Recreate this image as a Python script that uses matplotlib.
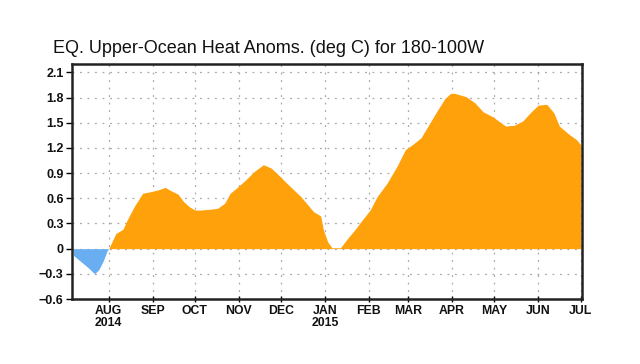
import matplotlib
matplotlib.use("Agg")
import matplotlib.pyplot as plt
import matplotlib.dates as mdates
import numpy as np
import pandas as pd

# Day offsets from 2014-08-01 and heat anomaly values (deg C)
day_offsets = [-25, -20, -15, -10, -7, -4, -1,
               0, 5, 10, 13, 18, 24, 30, 35, 40, 44, 49, 53, 57, 61, 65, 72, 77,
               82, 86, 91, 97, 103, 109.5, 115, 120, 126, 131, 136, 140, 145, 150,
               152, 155, 158, 164, 169, 174, 178, 185, 190, 197, 204, 210, 215, 221,
               226, 232, 238, 242, 245, 253, 259, 265, 272, 276, 281, 287, 293, 299,
               304, 310, 315, 319, 326, 331, 334]
anom_values = [-0.08, -0.15, -0.22, -0.30, -0.25, -0.15, -0.02,
               0.0, 0.18, 0.23, 0.34, 0.50, 0.66, 0.68, 0.70, 0.73, 0.69, 0.65, 0.56, 0.50, 0.46, 0.46, 0.47, 0.48,
               0.54, 0.66, 0.73, 0.82, 0.92, 1.00, 0.96, 0.88, 0.78, 0.70, 0.62, 0.54, 0.44, 0.39,
               0.22, 0.08, 0.01, 0.01, 0.12, 0.22, 0.31, 0.46, 0.62, 0.78, 0.98, 1.18, 1.24, 1.32,
               1.46, 1.63, 1.79, 1.85, 1.85, 1.81, 1.74, 1.63, 1.57, 1.52, 1.46, 1.47, 1.52, 1.63,
               1.71, 1.72, 1.62, 1.46, 1.36, 1.30, 1.24]
month_labels = ["AUG\n2014", "SEP", "OCT", "NOV", "DEC", "JAN\n2015",
                "FEB", "MAR", "APR", "MAY", "JUN", "JUL"]
month_starts = ["2014-08-01", "2014-09-01", "2014-10-01", "2014-11-01", "2014-12-01",
                "2015-01-01", "2015-02-01", "2015-03-01", "2015-04-01", "2015-05-01",
                "2015-06-01", "2015-07-01"]
y_ticks = [-0.6, -0.3, 0, 0.3, 0.6, 0.9, 1.2, 1.5, 1.8, 2.1]
y_tick_labels = ["\u22120.6", "\u22120.3", "0", "0.3", "0.6", "0.9", "1.2", "1.5", "1.8", "2.1"]

base = pd.Timestamp("2014-08-01")
dates = base + pd.to_timedelta(np.array(day_offsets, dtype=float), unit="D")
x = mdates.date2num(dates.to_pydatetime())
y = np.array(anom_values)

plt.rcParams['font.family'] = ['Liberation Sans', 'DejaVu Sans']

fig = plt.figure(figsize=(6.4, 3.64), dpi=100)
ax = fig.add_axes([72/640, 1-299/364, (582-72)/640, (299-64)/364])

ax.fill_between(x, 0, y, where=y >= 0, interpolate=True, color="#FFA10A", linewidth=0)
ax.fill_between(x, 0, y, where=y <= 0, interpolate=True, color="#6AAEF2", linewidth=0)

ax.set_xlim(mdates.date2num(pd.Timestamp("2014-07-06")), mdates.date2num(pd.Timestamp("2015-07-02")))
ax.set_ylim(-0.6, 2.2)

ticks = mdates.date2num(pd.to_datetime(month_starts).to_pydatetime())
ax.set_xticks(ticks)
ax.set_xticklabels(month_labels, fontsize=8.8, linespacing=0.95, fontweight="bold", color="#111111")
ax.set_yticks(y_ticks)
ax.set_yticklabels(y_tick_labels, fontsize=9, fontweight="bold", color="#111111")

ax.grid(True, color="#aaaaaa", linestyle=(0, (1.5, 4.5)), linewidth=0.9)
ax.set_axisbelow(True)
ax.tick_params(axis="x", direction="inout", length=5, width=1, pad=2)
ax.tick_params(axis="y", direction="out", length=4, width=1, pad=2)
for s in ax.spines.values():
    s.set_linewidth(1.8)
    s.set_color("#222222")

fig.text(53/640, 1-53/364, "EQ. Upper-Ocean Heat Anoms. (deg C) for 180-100W",
         fontsize=13, ha="left", va="baseline", color="#111111")

fig.savefig("out.png", dpi=100)
